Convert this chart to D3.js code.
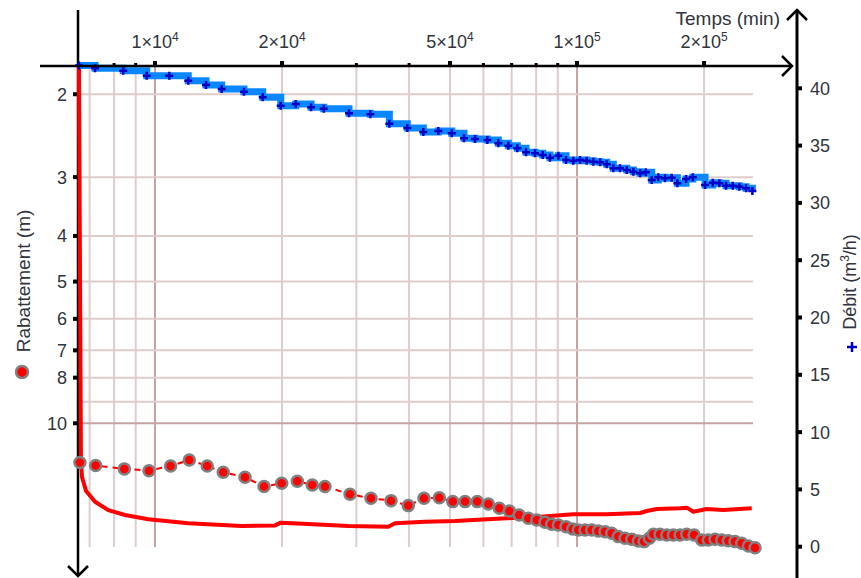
<!DOCTYPE html>
<html>
<head>
<meta charset="utf-8">
<script src="https://cdn.jsdelivr.net/npm/d3@7"></script>
<style>
  body { margin: 0; background: #fff; }
  svg text { font-family: 'Liberation Sans', Arial, sans-serif; fill: #30343c; }
</style>
</head>
<body>
<div id="graf"></div>
<script>
// Donnees (temps en minutes)
// Debit (m3/h)
debitTemps = [6605, 7210, 8410, 9560, 10810, 11990, 13210, 14390, 16250, 18000, 19860, 21550, 23430, 25110, 28820, 32370, 35920, 39620, 43230, 46920,
  50490, 53980, 57320, 61300, 65100, 68750, 72210, 75710, 79530, 82940, 86300, 90310, 94170, 97990, 101650, 105400, 109300, 113400, 117600, 121900,
  126400, 131200, 136000, 141100, 145500, 150300, 155800, 161600, 167600, 172900, 181300, 188100, 201100, 209800, 217400, 225500, 233900, 242400, 251500, 260300]
debitValeurs = [42.0, 41.75, 41.54, 41.1, 41.1, 40.66, 40.29, 39.94, 39.7, 39.21, 38.48, 38.63, 38.34, 38.22, 37.82, 37.73, 36.91, 36.54, 36.19, 36.27,
  36.07, 35.64, 35.58, 35.49, 35.2, 34.99, 34.76, 34.42, 34.33, 34.18, 33.94, 34.12, 33.74, 33.68, 33.74, 33.68, 33.6, 33.54, 33.37, 33.02,
  33.02, 32.87, 32.72, 32.58, 32.67, 32.0, 32.23, 32.15, 32.2, 31.71, 32.09, 32.23, 31.56, 31.76, 31.71, 31.5, 31.5, 31.41, 31.27, 31.04]

// Rabattement (m), points
rabTemps = [6640, 7235, 8460, 9678, 10890, 12060, 13300, 14510, 16340, 18130, 19960, 21740, 23590, 25280, 28980, 32490, 36250, 39830, 43390, 47180,
  50770, 54280, 58030, 61650, 65460, 69130, 72900, 76670, 80280, 84000, 87100, 90310, 94170, 97680, 100700, 104470, 108350, 112330, 116500, 120850,
  125300, 129950, 134800, 139770, 144200, 148400, 151700, 157300, 163200, 169200, 175500, 181970, 189400, 197500, 204700, 212300, 220300, 228300, 236800, 245600,
  254700, 264100]
rabValeurs = [12.12, 12.30, 12.50, 12.61, 12.32, 11.97, 12.32, 12.71, 13.02, 13.63, 13.41, 13.28, 13.52, 13.63, 14.15, 14.43, 14.60, 14.96, 14.43, 14.39,
  14.67, 14.67, 14.67, 14.84, 15.15, 15.36, 15.66, 15.92, 16.05, 16.23, 16.39, 16.45, 16.58, 16.77, 16.85, 16.85, 16.85, 16.94, 16.99, 17.13,
  17.41, 17.55, 17.64, 17.79, 17.84, 17.55, 17.21, 17.21, 17.27, 17.27, 17.27, 17.21, 17.27, 17.70, 17.70, 17.64, 17.70, 17.76, 17.84, 17.99,
  18.23, 18.38]

// Rabattement, courbe continue
courbeTemps = [6605, 6677, 6714, 6865, 7210, 7750, 8490, 9641, 11990, 16050, 19250, 19860, 23080, 28720, 35720, 37050, 43630, 51400, 56800, 68140,
  81730, 97990, 117600, 141100, 146300, 154500, 175500, 181970, 188700, 202900, 222200, 259400]
courbeValeurs = [1.75, 11.97, 13.00, 13.93, 14.68, 15.29, 15.66, 15.99, 16.31, 16.53, 16.48, 16.26, 16.37, 16.53, 16.59, 16.31, 16.18, 16.12, 16.05, 15.92,
  15.79, 15.61, 15.61, 15.51, 15.36, 15.21, 15.16, 15.11, 15.41, 15.21, 15.29, 15.16]

// Graduations
tempsGrille = [7000, 8000, 9000, 10000, 20000, 30000, 40000, 50000, 60000, 70000, 80000, 90000, 100000, 200000]
tempsMineurs = [8000, 9000, 30000, 40000, 60000, 70000, 80000, 90000]
tempsMajeurs = [10000, 20000, 50000, 100000, 200000]
rabGrille = [2, 3, 4, 5, 6, 7, 8, 9, 10]
rabTicks = [2, 3, 4, 5, 6, 7, 8, 10]
debitTicks = [0, 5, 10, 15, 20, 25, 30, 35, 40]

// svg
svg = d3.select('#graf').append('svg')
        .attr('width', 861)
        .attr('height', 578)

// echelles
x = d3.scaleLog().domain([6570, 261200]).range([78, 753])
yRab = d3.scaleLog().domain([1.742, 18.29]).range([66, 546.7])
yDeb = d3.scaleLinear().domain([0, 40]).range([546.7, 88.3])

// grille
grille = svg.append('g')
grille.selectAll('line.v')
      .data(tempsGrille)
      .enter().append('line')
        .attr('class', 'v')
        .attr('x1', d => x(d)).attr('x2', d => x(d))
        .attr('y1', 66).attr('y2', 547)
        .attr('stroke', d => (d === 10000 || d === 100000) ? '#c4a3a3' : '#dfcdcd')
        .attr('stroke-width', 2)
grille.selectAll('line.h')
      .data(rabGrille)
      .enter().append('line')
        .attr('class', 'h')
        .attr('x1', 78).attr('x2', 753)
        .attr('y1', d => yRab(d)).attr('y2', d => yRab(d))
        .attr('stroke', d => d === 10 ? '#c4a3a3' : '#dfcdcd')
        .attr('stroke-width', 2)

// axe gauche (rabattement)
svg.append('line')
   .attr('x1', 78).attr('x2', 78).attr('y1', 10).attr('y2', 576)
   .attr('stroke', '#000').attr('stroke-width', 2.5)
svg.append('path')
   .attr('d', 'M68,566L78,576L88,566')
   .attr('fill', 'none').attr('stroke', '#000').attr('stroke-width', 2.5)
svg.selectAll('rect.tg')
   .data(rabTicks)
   .enter().append('rect')
     .attr('class', 'tg')
     .attr('x', 73).attr('width', 4)
     .attr('y', d => yRab(d) - 2).attr('height', 4)
     .attr('fill', '#000')
svg.selectAll('text.tg')
   .data(rabTicks)
   .enter().append('text')
     .attr('class', 'tg')
     .attr('x', 67)
     .attr('y', d => yRab(d))
     .attr('dy', '0.36em')
     .attr('text-anchor', 'end')
     .style('font-size', '18px')
     .text(d => d)

// axe droit (debit)
svg.append('line')
   .attr('x1', 797).attr('x2', 797).attr('y1', 10).attr('y2', 578)
   .attr('stroke', '#000').attr('stroke-width', 3)
svg.append('path')
   .attr('d', 'M787,20L797,10L807,20')
   .attr('fill', 'none').attr('stroke', '#000').attr('stroke-width', 2.5)
svg.selectAll('rect.td')
   .data(debitTicks)
   .enter().append('rect')
     .attr('class', 'td')
     .attr('x', 797).attr('width', 5)
     .attr('y', d => yDeb(d) - 2).attr('height', 4)
     .attr('fill', '#000')
svg.selectAll('text.td')
   .data(debitTicks)
   .enter().append('text')
     .attr('class', 'td')
     .attr('x', 810)
     .attr('y', d => yDeb(d))
     .attr('dy', '0.36em')
     .style('font-size', '18px')
     .text(d => d)

// courbe rouge continue
ligneCourbe = d3.line()
  .x((d, i) => x(courbeTemps[i]))
  .y(d => yRab(d))
svg.append('path')
   .datum(courbeValeurs)
   .attr('d', ligneCourbe)
   .attr('fill', 'none')
   .attr('stroke', '#ff0000')
   .attr('stroke-width', 4)
   .attr('stroke-linejoin', 'round')

// debit : escalier bleu + croix
ligneDebit = d3.line()
  .x((d, i) => x(debitTemps[i]))
  .y(d => yDeb(d))
  .curve(d3.curveStepAfter)
svg.append('path')
   .datum(debitValeurs)
   .attr('d', ligneDebit)
   .attr('fill', 'none')
   .attr('stroke', '#0a86ff')
   .attr('stroke-width', 7)
svg.selectAll('path.croix')
   .data(debitValeurs)
   .enter().append('path')
     .attr('class', 'croix')
     .attr('transform', (d, i) => `translate(${ x(debitTemps[i]) }, ${ yDeb(d) })`)
     .attr('d', 'M-4,0H4M0,-4V4')
     .attr('stroke', '#0000c8')
     .attr('stroke-width', 2.5)

// rabattement : points
ligneRab = d3.line()
  .x((d, i) => x(rabTemps[i]))
  .y(d => yRab(d))
svg.append('path')
   .datum(rabValeurs)
   .attr('d', ligneRab)
   .attr('fill', 'none')
   .attr('stroke', '#ff0000')
   .attr('stroke-width', 2)
   .attr('stroke-dasharray', '6,5')
svg.selectAll('circle.rab')
   .data(rabValeurs)
   .enter().append('circle')
     .attr('class', 'rab')
     .attr('cx', (d, i) => x(rabTemps[i]))
     .attr('cy', d => yRab(d))
     .attr('r', 5.5)
     .attr('fill', '#ff0000')
     .attr('stroke', '#808080')
     .attr('stroke-width', 2.5)

// axe du haut (temps)
svg.append('line')
   .attr('x1', 40).attr('x2', 792).attr('y1', 66).attr('y2', 66)
   .attr('stroke', '#000').attr('stroke-width', 2.5)
svg.append('path')
   .attr('d', 'M782,56L792,66L782,76')
   .attr('fill', 'none').attr('stroke', '#000').attr('stroke-width', 2.5)
svg.selectAll('rect.tmaj')
   .data(tempsMajeurs)
   .enter().append('rect')
     .attr('class', 'tmaj')
     .attr('x', d => x(d) - 2).attr('width', 4)
     .attr('y', 61).attr('height', 5)
     .attr('fill', '#000')
svg.selectAll('rect.tmin')
   .data(tempsMineurs)
   .enter().append('rect')
     .attr('class', 'tmin')
     .attr('x', d => x(d) - 1.5).attr('width', 3)
     .attr('y', 63).attr('height', 3)
     .attr('fill', '#000')
labelsTemps = svg.selectAll('text.tt')
   .data(tempsMajeurs)
   .enter().append('text')
     .attr('class', 'tt')
     .attr('x', d => x(d))
     .attr('y', 48)
     .attr('text-anchor', 'middle')
     .style('font-size', '18px')
labelsTemps.append('tspan')
   .text(d => {
     e = Math.floor(Math.log10(d) + 1e-9)
     return Math.round(d / Math.pow(10, e)) + '\u00d710'
   })
labelsTemps.append('tspan')
   .attr('dy', '-7')
   .style('font-size', '12px')
   .text(d => Math.floor(Math.log10(d) + 1e-9))

svg.append('text')
   .attr('x', 780).attr('y', 25)
   .attr('text-anchor', 'end')
   .style('font-size', '19px')
   .text('Temps (min)')

// legendes des axes verticaux
svg.append('text')
   .attr('transform', 'translate(30, 281) rotate(-90)')
   .attr('text-anchor', 'middle')
   .style('font-size', '19px')
   .text('Rabattement (m)')
svg.append('circle')
   .attr('cx', 22).attr('cy', 372).attr('r', 6)
   .attr('fill', '#ff0000')
   .attr('stroke', '#808080')
   .attr('stroke-width', 2.5)

svg.append('text')
   .attr('transform', 'translate(856, 282) rotate(-90)')
   .attr('text-anchor', 'middle')
   .style('font-size', '18px')
   .html('Débit (m<tspan dy="-7" font-size="12px">3</tspan><tspan dy="7">/h)</tspan>')
svg.append('path')
   .attr('transform', 'translate(852, 347)')
   .attr('d', 'M-5,0H5M0,-5V5')
   .attr('stroke', '#0000c8')
   .attr('stroke-width', 2.5)
</script>
</body>
</html>
